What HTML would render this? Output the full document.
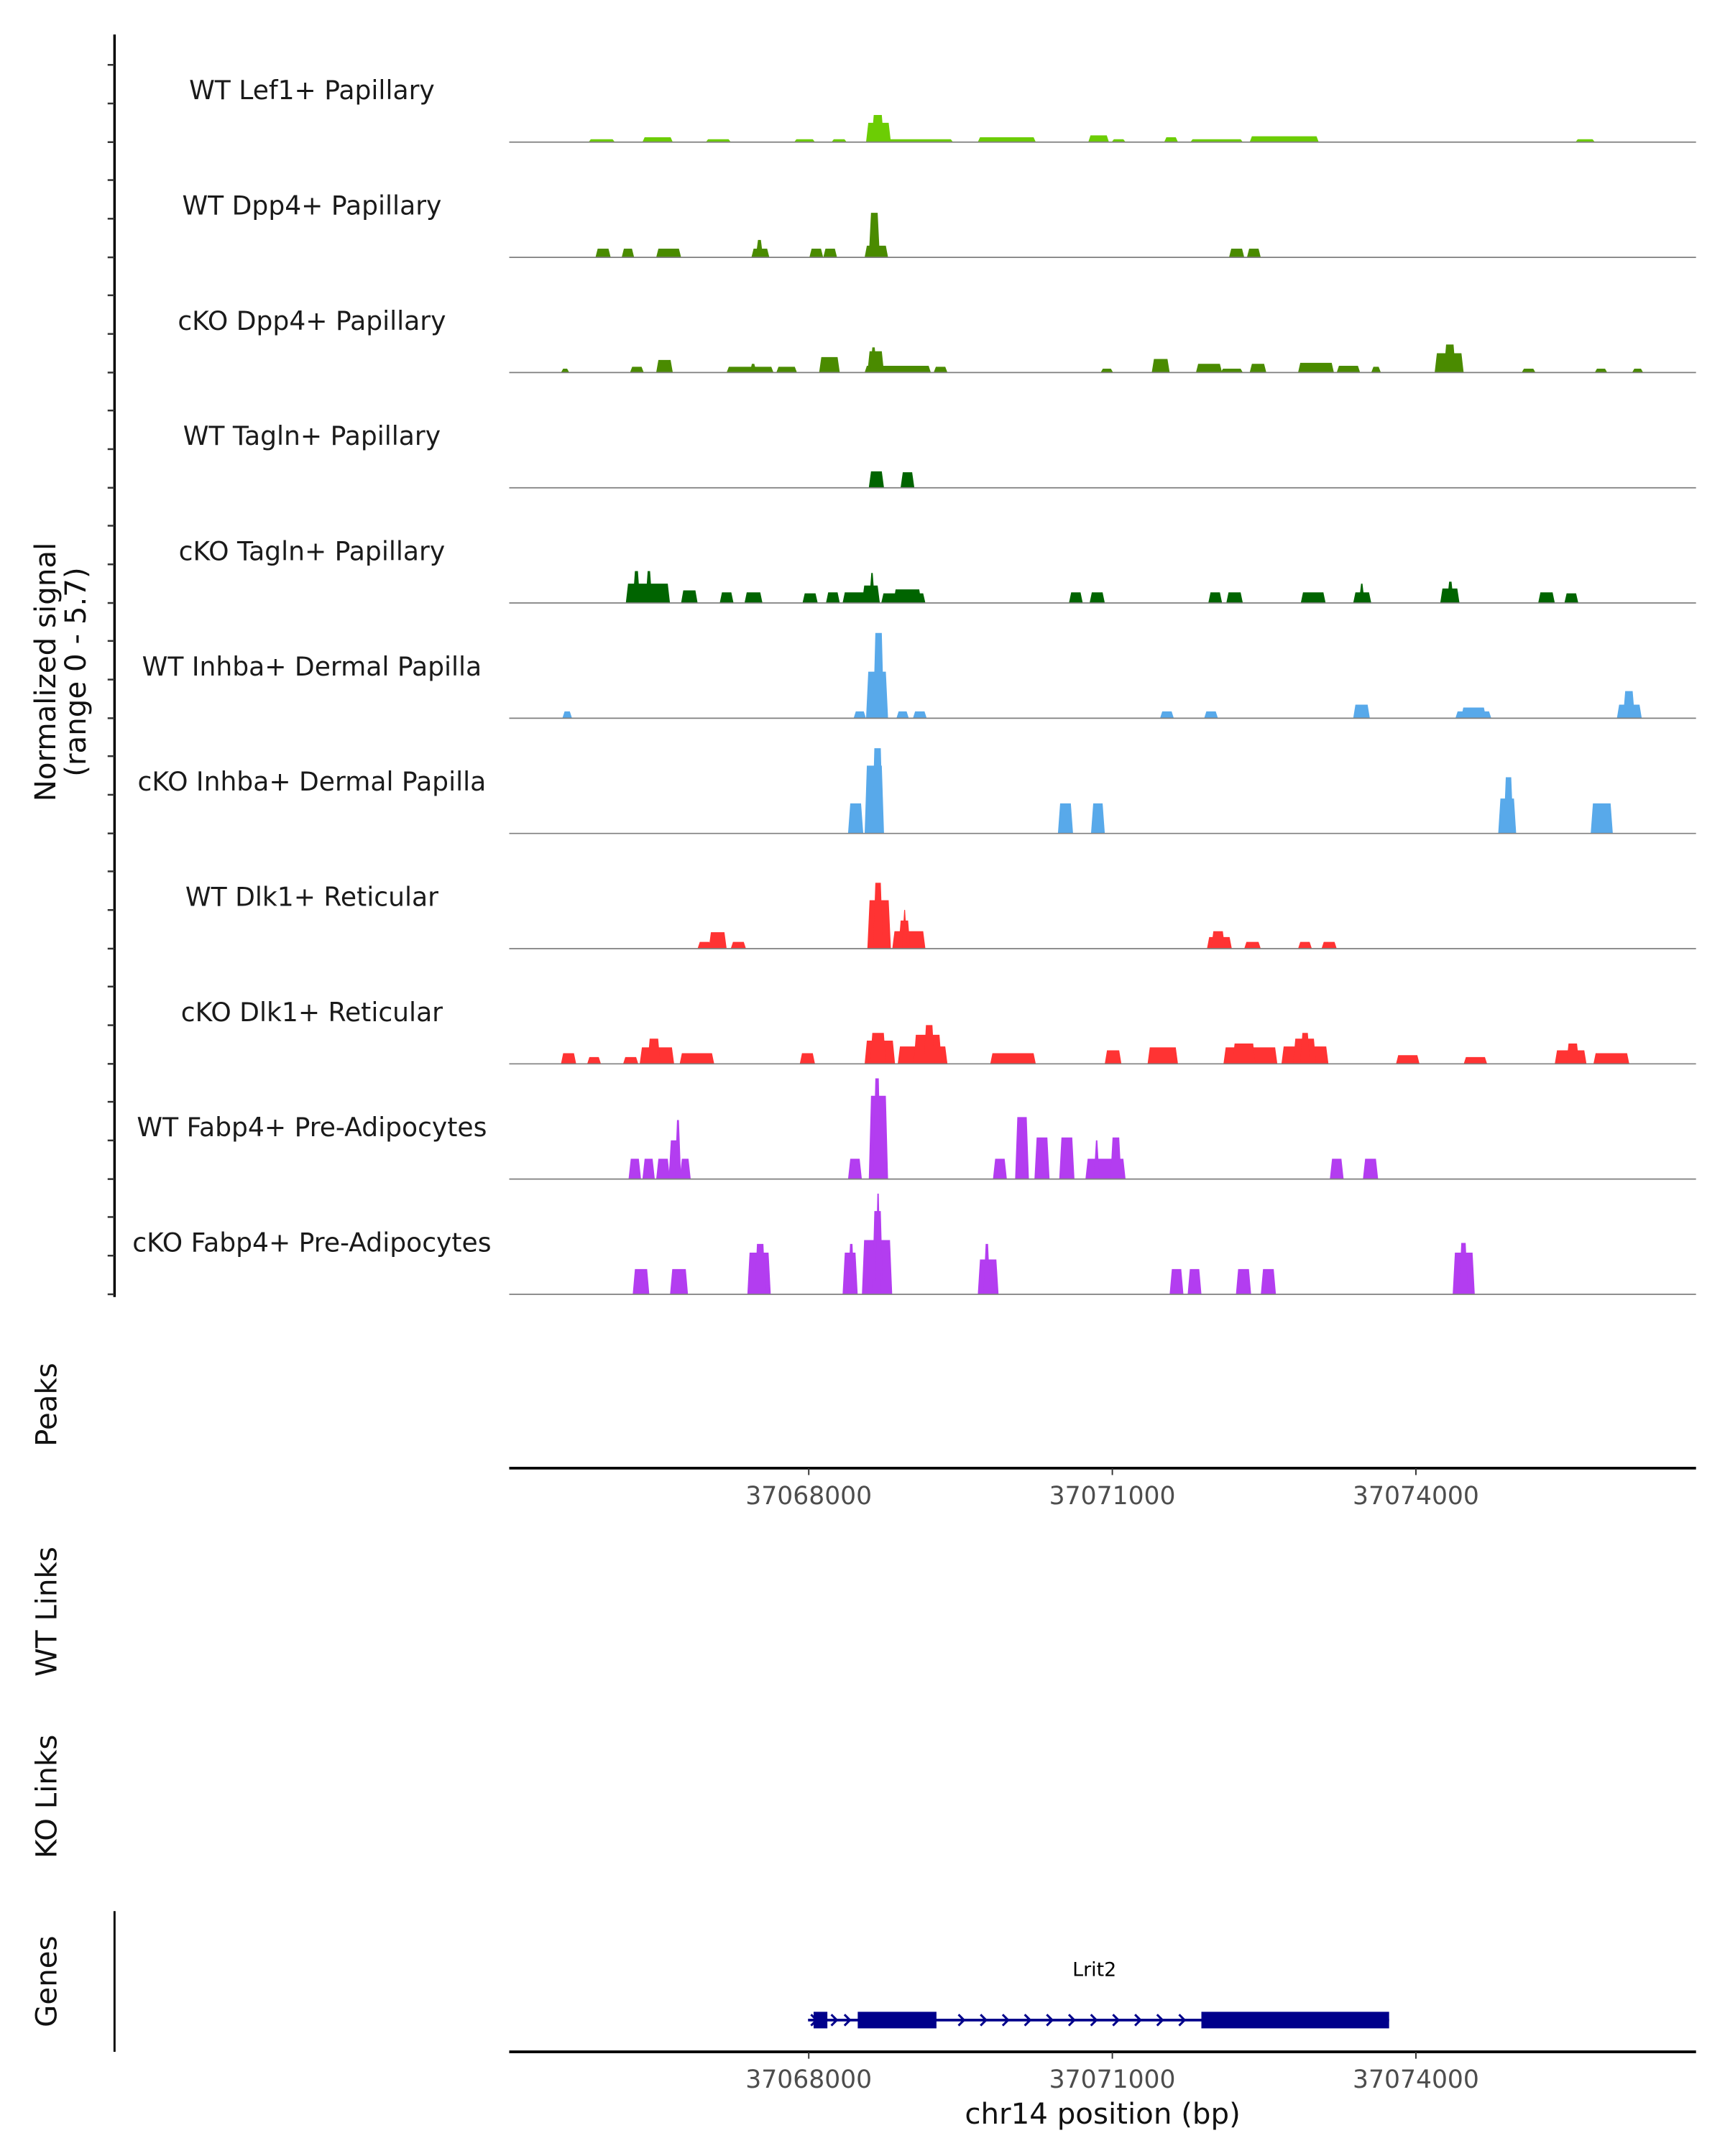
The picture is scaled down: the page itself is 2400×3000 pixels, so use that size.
<!DOCTYPE html>
<html><head><meta charset="utf-8"><title>Coverage plot</title>
<style>
html,body{margin:0;padding:0;background:#fff;}
svg{display:block;font-family:"DejaVu Sans","Liberation Sans",sans-serif;}
</style></head>
<body>
<svg id="chart" width="2400" height="3000" viewBox="0 0 1250 1562.5" xmlns="http://www.w3.org/2000/svg">
  <rect x="0" y="0" width="1250" height="1562.5" fill="#fff"/>
  <g id="tracks"></g>
  <line x1="83" y1="25" x2="83" y2="940" stroke="#000" stroke-width="1.8"/>
  <g id="yticks"></g>
  <text transform="translate(40,487) rotate(-90)" text-anchor="middle" font-size="21" fill="#111"><tspan x="0" dy="0">Normalized signal</tspan><tspan x="0" dy="22">(range 0 - 5.7)</tspan></text>
  <text transform="translate(41,1018) rotate(-90)" text-anchor="middle" font-size="21" fill="#111">Peaks</text>
  <text transform="translate(41,1168) rotate(-90)" text-anchor="middle" font-size="21" fill="#111">WT Links</text>
  <text transform="translate(41,1302) rotate(-90)" text-anchor="middle" font-size="21" fill="#111">KO Links</text>
  <text transform="translate(41,1436) rotate(-90)" text-anchor="middle" font-size="21" fill="#111">Genes</text>
  <line x1="83" y1="1385" x2="83" y2="1487" stroke="#000" stroke-width="1.5"/>
  <g id="axes"></g>
  <g id="gene"></g>
  <text x="799" y="1539" text-anchor="middle" font-size="21" fill="#111">chr14 position (bp)</text>
</svg>
<script>
const regionStart = 37065040;
const regionEnd = 37076768;
const xTicks = [37068000, 37071000, 37074000];
const trackNames = ["WT Lef1+ Papillary","WT Dpp4+ Papillary","cKO Dpp4+ Papillary","WT Tagln+ Papillary","cKO Tagln+ Papillary","WT Inhba+ Dermal Papilla","cKO Inhba+ Dermal Papilla","WT Dlk1+ Reticular","cKO Dlk1+ Reticular","WT Fabp4+ Pre-Adipocytes","cKO Fabp4+ Pre-Adipocytes"];
const trackColors = ["#6ccd04","#4a8b00","#4a8b00","#006400","#006400","#58a9ea","#58a9ea","#ff3333","#ff3333","#b33df0","#b33df0"];
const signalMax = 5.7;
const lef1 = [[37065838,37066070,0.15],[37066370,37066643,0.25],[37066997,37067216,0.15],[37067870,37068048,0.15],[37068239,37068361,0.15],[37068580,37068798,1.0],[37068634,37068730,1.4],[37068798,37069412,0.15],[37069684,37070230,0.25],[37070776,37070953,0.35],[37071007,37071117,0.15],[37071526,37071635,0.25],[37071785,37072276,0.15],[37072371,37073026,0.3],[37075591,37075754,0.15]];
const wtDpp4 = [[37065906,37066029,0.45],[37066165,37066261,0.45],[37066506,37066725,0.45],[37067447,37067597,0.45],[37067490,37067535,0.9],[37068020,37068129,0.45],[37068157,37068266,0.45],[37068566,37068770,0.6],[37068607,37068689,2.3],[37072167,37072290,0.45],[37072344,37072453,0.45]];
const koDpp4 = [[37065565,37065620,0.2],[37066247,37066356,0.3],[37066506,37066643,0.65],[37067202,37067638,0.3],[37067430,37067470,0.45],[37067693,37067870,0.3],[37068116,37068293,0.8],[37068566,37069193,0.35],[37068593,37068730,1.1],[37068620,37068660,1.3],[37069248,37069357,0.3],[37070898,37070994,0.2],[37071403,37071553,0.7],[37071840,37072071,0.45],[37072085,37072276,0.2],[37072371,37072508,0.45],[37072849,37073176,0.5],[37073231,37073435,0.35],[37073572,37073640,0.3],[37074199,37074458,1.0],[37074290,37074380,1.45],[37075059,37075168,0.2],[37075781,37075877,0.2],[37076150,37076232,0.2]];
const wtTagln = [[37068607,37068730,0.85],[37068921,37069030,0.8]];
const koTagln = [[37066206,37066615,1.0],[37066274,37066320,1.65],[37066400,37066440,1.65],[37066752,37066888,0.65],[37067134,37067243,0.55],[37067379,37067529,0.55],[37067952,37068075,0.5],[37068184,37068293,0.55],[37068348,37068689,0.55],[37068540,37068689,0.9],[37068610,37068640,1.55],[37068730,37069139,0.5],[37068850,37069100,0.7],[37070585,37070694,0.55],[37070789,37070912,0.55],[37071962,37072071,0.55],[37072140,37072276,0.55],[37072876,37073094,0.55],[37073394,37073545,0.55],[37073450,37073480,1.0],[37074254,37074417,0.75],[37074320,37074360,1.1],[37075222,37075359,0.55],[37075481,37075591,0.5]];
const wtInhba = [[37065579,37065647,0.35],[37068457,37068552,0.35],[37068580,37068770,2.4],[37068650,37068730,4.4],[37068880,37068975,0.35],[37069043,37069152,0.35],[37071485,37071594,0.35],[37071921,37072030,0.35],[37073394,37073531,0.7],[37074404,37074731,0.35],[37074460,37074680,0.55],[37076000,37076218,0.7],[37076060,37076150,1.4]];
const koInhba = [[37068402,37068525,1.55],[37068566,37068730,3.5],[37068640,37068720,4.4],[37070476,37070598,1.55],[37070803,37070912,1.55],[37074827,37074977,1.8],[37074880,37074950,2.9],[37075741,37075932,1.55]];
const wtDlk1 = [[37066915,37067025,0.35],[37067025,37067175,0.85],[37067243,37067366,0.35],[37068593,37068798,2.5],[37068650,37068720,3.4],[37068839,37069139,0.9],[37068900,37068990,1.45],[37068935,37068960,2.0],[37071949,37072167,0.6],[37071990,37072100,0.9],[37072317,37072453,0.35],[37072849,37072958,0.35],[37073081,37073204,0.35]];
const koDlk1 = [[37065565,37065688,0.55],[37065824,37065933,0.35],[37066179,37066302,0.35],[37066343,37066656,0.85],[37066420,37066520,1.3],[37066738,37067052,0.55],[37067925,37068048,0.55],[37068566,37068839,1.2],[37068620,37068750,1.6],[37068893,37069357,0.9],[37069050,37069300,1.5],[37069150,37069230,2.0],[37069807,37070230,0.55],[37070939,37071076,0.7],[37071362,37071635,0.85],[37072112,37072617,0.85],[37072200,37072400,1.05],[37072685,37073122,0.9],[37072800,37073000,1.3],[37072870,37072940,1.6],[37073817,37074022,0.45],[37074486,37074690,0.35],[37075386,37075672,0.7],[37075500,37075600,1.05],[37075768,37076095,0.55]];
const wtFabp4 = [[37066233,37066329,1.05],[37066370,37066465,1.05],[37066506,37066615,1.05],[37066629,37066725,2.0],[37066690,37066725,3.05],[37066738,37066820,1.05],[37068402,37068511,1.05],[37068607,37068770,4.3],[37068650,37068700,5.2],[37069834,37069944,1.05],[37070053,37070162,3.2],[37070244,37070366,2.15],[37070489,37070612,2.15],[37070748,37071117,1.05],[37070830,37070860,2.0],[37070994,37071076,2.15],[37073163,37073272,1.05],[37073490,37073613,1.05]];
const koFabp4 = [[37066274,37066411,1.3],[37066643,37066793,1.3],[37067407,37067611,2.15],[37067480,37067560,2.6],[37068348,37068470,2.15],[37068400,37068440,2.6],[37068539,37068811,2.8],[37068640,37068720,4.3],[37068670,37068700,5.2],[37069684,37069862,1.8],[37069740,37069780,2.6],[37071580,37071689,1.3],[37071758,37071867,1.3],[37072235,37072358,1.3],[37072481,37072603,1.3],[37074377,37074568,2.15],[37074440,37074500,2.65]];
const trackData = [lef1, wtDpp4, koDpp4, wtTagln, koTagln, wtInhba, koInhba, wtDlk1, koDlk1, wtFabp4, koFabp4];
const geneName = "Lrit2";
const geneStart = 37067993;
const geneEnd = 37073735;
const geneExons = [[37068048,37068184],[37068484,37069262],[37071880,37073735]];
const strandArrows = [37068050, 37068250, 37068380, 37069507, 37069725, 37069943, 37070161, 37070379, 37070597, 37070815, 37071033, 37071251, 37071469, 37071687];

const NS = "http://www.w3.org/2000/svg";
const X0 = 369, X1 = 1229;
const firstBase = 103, trackStep = 83.5, trackH = 80;
function xScale(bp){ return X0 + (bp - regionStart) / (regionEnd - regionStart) * (X1 - X0); }
function yScale(v, base){ return base - v / signalMax * trackH; }
function mk(tag, attrs, parent){ const e = document.createElementNS(NS, tag); for (const k in attrs) e.setAttribute(k, attrs[k]); parent.appendChild(e); return e; }

const tracksG = document.getElementById('tracks');
const ytG = document.getElementById('yticks');
trackNames.forEach((name, i) => {
  const base = firstBase + i * trackStep;
  const g = mk('g', {}, tracksG);
  
  
  const lbl = mk('text', {x: 226, y: base - 31, 'text-anchor': 'middle', 'font-size': 18.8, fill: '#1a1a1a'}, g);
  lbl.textContent = name;
  
  
  trackData[i].forEach(p => {
    const xa = xScale(p[0]), xb = xScale(p[1]), yt = yScale(p[2], base);
    const poly = mk('polygon', {points: `${xa-1},${base} ${xa+0.6},${yt} ${xb-0.6},${yt} ${xb+1},${base}`, fill: trackColors[i]}, g);
    
    
  });
  const bl = mk('line', {x1: X0, x2: X1, y1: base, y2: base, stroke: '#7f7f7f', 'stroke-width': 0.9}, g);
  
  
  [0, 28, 56].forEach(off => {
    const t = mk('line', {x1: 78, x2: 83, y1: base - off, y2: base - off, stroke: '#333', 'stroke-width': 1.3}, ytG);
    
    
  });
});

const axesG = document.getElementById('axes');
[[1064, 'peaks-x-axis'], [1487, 'genes-x-axis']].forEach(([y, nm]) => {
  const g = mk('g', {}, axesG);
  
  
  mk('line', {x1: X0, x2: X1, y1: y, y2: y, stroke: '#000', 'stroke-width': 2}, g);
  xTicks.forEach(t => {
    const x = xScale(t);
    mk('line', {x1: x, x2: x, y1: y, y2: y + 5, stroke: '#333', 'stroke-width': 1}, g);
    const tl = mk('text', {x: x, y: y + 26, 'text-anchor': 'middle', 'font-size': 18, fill: '#4d4d4d'}, g);
    tl.textContent = String(t);
    
    
  });
});

const geneG = document.getElementById('gene');
const gy = 1464;
const gl = mk('line', {x1: xScale(geneStart), x2: xScale(geneEnd), y1: gy, y2: gy, stroke: '#00008b', 'stroke-width': 2}, geneG);


geneExons.forEach(e => {
  const r = mk('rect', {x: xScale(e[0]), y: gy - 6, width: xScale(e[1]) - xScale(e[0]), height: 12, fill: '#00008b'}, geneG);
  
  
});
strandArrows.forEach(b => {
  const x = xScale(b);
  const c = mk('polyline', {points: `${x-2},${gy-4} ${x+2},${gy} ${x-2},${gy+4}`, fill: 'none', stroke: '#00008b', 'stroke-width': 1.6}, geneG);
  
  
});
const gn = mk('text', {x: xScale((geneStart + geneEnd) / 2) - 3, y: 1432, 'text-anchor': 'middle', 'font-size': 14, fill: '#000'}, geneG);
gn.textContent = geneName;


</script>
</body></html>
